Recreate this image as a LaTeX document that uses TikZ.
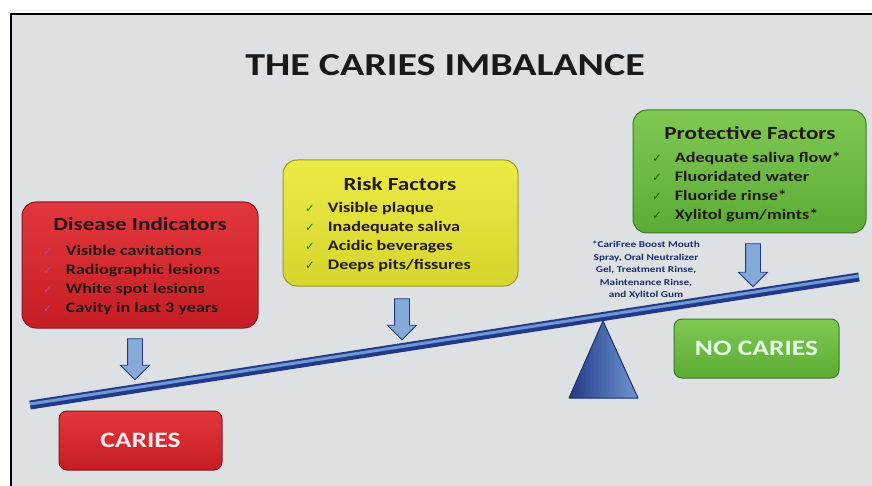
\documentclass[tikz,border=0pt]{standalone}
\usepackage{fontspec}
\setmainfont{Carlito}[FakeStretch=1.25]
\newfontfamily\symfont{DejaVu Sans}
\usetikzlibrary{shapes.arrows}
\definecolor{slide}{HTML}{DDE1E3}
\definecolor{redtop}{HTML}{E2373C}
\definecolor{redbot}{HTML}{C61D24}
\definecolor{rededge}{HTML}{8A1419}
\definecolor{yeltop}{HTML}{ECEB45}
\definecolor{yelbot}{HTML}{D6D52E}
\definecolor{yeledge}{HTML}{9C9A22}
\definecolor{grntop}{HTML}{80C953}
\definecolor{grnbot}{HTML}{5BAB35}
\definecolor{grnedge}{HTML}{3D7A22}
\definecolor{navy}{HTML}{22398A}
\definecolor{beamhi}{HTML}{6F97D2}
\definecolor{arrowfill}{HTML}{86AAD8}
\definecolor{notecol}{HTML}{1E2E6C}
\definecolor{ink}{HTML}{231818}
\newcommand{\tick}[1]{{\color{#1}\symfont\fontsize{11.5}{11.5}\selectfont\char"2713}\hspace{13pt}}
\tikzset{
  factorbox/.style={rounded corners=14pt, line width=1pt, minimum width=#1},
  redbox/.style={top color=redtop, bottom color=redbot, draw=rededge},
  yelbox/.style={top color=yeltop, bottom color=yelbot, draw=yeledge},
  grnbox/.style={top color=grntop, bottom color=grnbot, draw=grnedge},
  boxtitle/.style={font=\fontsize{18.5}{20}\selectfont\bfseries, text=ink},
  factorlist/.style={anchor=north west, inner sep=0pt, align=left,
    font=\fontsize{14.5}{19}\selectfont\bfseries, text=ink},
  resultbox/.style={rounded corners=8pt, line width=1pt, minimum width=#1,
    minimum height=59pt, font=\fontsize{22}{24}\selectfont\bfseries},
  downarrow/.style={single arrow, shape border rotate=270, draw=navy,
    line width=0.8pt, fill=arrowfill, inner sep=7pt, single arrow head extend=7pt,
    minimum height=#1}
}
\begin{document}
\begin{tikzpicture}[x=1pt, y=-1pt]
  \useasboundingbox (0,0) rectangle (872,486);
  % slide and frame
  \fill[white] (0,0) rectangle (872,486);
  \fill[slide] (11,14) rectangle (872,486);
  \draw[line width=2.5pt] (11,486) -- (11,14) -- (872,14);
  \node[font=\fontsize{32}{34}\selectfont\bfseries, text=black!90] (title) at (445,65) {THE CARIES IMBALANCE};
  % factor boxes
  \node[factorbox=236pt, redbox, minimum height=126pt] (disease) at (140,265) {};
  \node[factorbox=235pt, yelbox, minimum height=126pt] (risk) at (400.5,223) {};
  \node[factorbox=233pt, grnbox, minimum height=123pt] (protect) at (749.5,171.5) {};
  \node[boxtitle] (diseaset) at (140,224) {Disease Indicators};
  \node[boxtitle] (riskt) at (400,184) {Risk Factors};
  \node[boxtitle] (protectt) at (750,133) {Protective Factors};
  \node[factorlist] (diseasel) at (43,245) {\tick{violet!70}Visible cavitations\\
    \tick{violet!70}Radiographic lesions\\ \tick{violet!70}White spot lesions\\
    \tick{violet!70}Cavity in last 3 years};
  \node[factorlist] (riskl) at (305,202) {\tick{green!50!black}Visible plaque\\
    \tick{green!50!black}Inadequate saliva\\ \tick{green!50!black}Acidic beverages\\
    \tick{green!50!black}Deeps pits/fissures};
  \node[factorlist] (protectl) at (652,152) {\tick{green!40!black}Adequate saliva flow*\\
    \tick{green!40!black}Fluoridated water\\ \tick{green!40!black}Fluoride rinse*\\
    \tick{green!40!black}Xylitol gum/mints*};
  \node[align=center, text=notecol, font=\fontsize{9}{12.5}\selectfont\bfseries] (note) at (646,270)
    {*CariFree Boost Mouth\\ Spray, Oral Neutralizer\\ Gel, Treatment Rinse,\\ Maintenance Rinse,\\ and Xylitol Gum};
  % arrows
  \node[downarrow=41pt] (diseasea) at (135,355.5) {};
  \node[downarrow=41pt] (riska) at (402,315.5) {};
  \node[downarrow=43pt] (protecta) at (753,261.5) {};
  % beam and fulcrum
  \coordinate (beamL) at (30,405);
  \coordinate (beamR) at (859,277);
  \draw[navy, line width=9pt] (beamL) -- (beamR);
  \draw[beamhi, line width=3pt] ([yshift=1pt]beamL) -- ([yshift=1pt]beamR);
  \coordinate (apex) at (603,321);
  \coordinate (baseL) at (569,398);
  \coordinate (baseR) at (638,398);
  \draw[left color=navy, right color=beamhi, draw=navy!80!black, line width=1pt, line join=round]
    (apex) -- (baseR) -- (baseL) -- cycle;
  % outcomes
  \node[resultbox=163pt, redbox, text=white!92!red] (caries) at (140.5,440.5) {CARIES};
  \node[resultbox=165pt, grnbox, text=white!90!green] (nocaries) at (756.5,348.5) {NO CARIES};
\end{tikzpicture}
\end{document}
